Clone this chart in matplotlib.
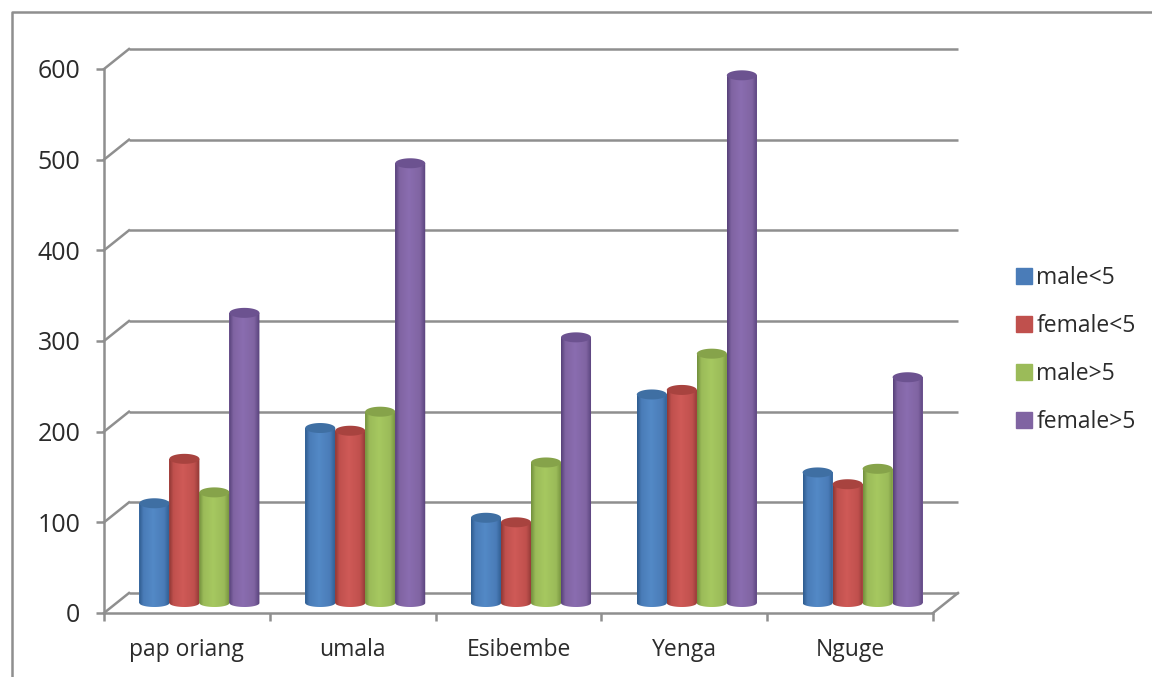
import numpy as np
import matplotlib
matplotlib.use("Agg")
import matplotlib.pyplot as plt
from matplotlib.colors import LinearSegmentedColormap
from matplotlib.lines import Line2D
from matplotlib.patches import Patch, PathPatch
from matplotlib.path import Path
from matplotlib.transforms import Affine2D

villages = ["pap oriang", "umala", "Esibembe", "Yenga", "Nguge"]
series_names = ["male<5", "female<5", "male>5", "female>5"]
male_under5 = [110, 193, 94, 230, 144]
female_under5 = [159, 190, 89, 235, 131]
male_over5 = [122, 211, 155, 275, 148]
female_over5 = [320, 485, 293, 582, 249]
y_ticks = [0, 100, 200, 300, 400, 500, 600]

# side colour, body colour, highlight, cap colour
palette = [
    ("#2f5c8f", "#4a7cb8", "#5389c6", "#3f6fa3"),
    ("#8f3835", "#c0504d", "#cf5a57", "#a8433f"),
    ("#73903d", "#9bbb59", "#a6c860", "#86a34a"),
    ("#57417a", "#8064a2", "#8a6db0", "#6c5290"),
]

GREY = "#8f8f8f"
TEXT = "#2b2b2b"
LW = 1.8
W, H = 1152, 677
DEPTH_X, DEPTH_Y = 25, 20  # pixel offset of the back wall
BAR_W = 0.181
CAP_PX = 5
BASE_PX = 4

plt.rcParams["font.family"] = ["Open Sans", "DejaVu Sans"]

fig = plt.figure(figsize=(W / 100, H / 100), dpi=100)
ax = fig.add_axes([104 / W, (H - 613) / H, 829 / W, 544 / H])
ax.set_xlim(0, 5)
ax.set_ylim(0, 600)
ax.patch.set_alpha(0)

back = ax.transData + Affine2D().translate(DEPTH_X, DEPTH_Y)
middle = ax.transData + Affine2D().translate(DEPTH_X / 2, DEPTH_Y / 2)
px_x = 5 / 829
px_y = 600 / 544

# back wall gridlines with their slanted side-wall part
for val in y_ticks:
    ax.plot([0, 5], [val, val], color=GREY, lw=LW, transform=back,
            clip_on=False, zorder=1, solid_capstyle="butt")
    ax.plot([0, DEPTH_X * px_x], [val, val + DEPTH_Y * px_y], color=GREY,
            lw=LW, clip_on=False, zorder=1)
ax.plot([5, 5 + DEPTH_X * px_x], [0, DEPTH_Y * px_y], color=GREY, lw=LW,
        clip_on=False, zorder=1)


def draw_cylinder(x0, width, height, colors, z):
    cmap = LinearSegmentedColormap.from_list(
        "cyl", [(0, colors[0]), (0.14, colors[1]), (0.45, colors[2]),
                (0.82, colors[1]), (1, colors[0])])
    hw = width / 2
    cx = x0 + hw
    # outline: up the left side, across the top, round the base
    t = np.linspace(0, np.pi, 40)
    bx = cx - hw * np.cos(t)
    by = -BASE_PX * px_y * np.sin(t)
    xs = np.r_[cx - hw, cx + hw, bx[::-1]]
    ys = np.r_[height, height, by[::-1]]
    verts = np.c_[xs, ys]
    outline = PathPatch(Path(np.r_[verts, verts[:1]], closed=True),
                        transform=middle, fc="none", ec="none")
    ax.add_patch(outline)
    img = ax.imshow(np.linspace(0, 1, 64)[None, :], cmap=cmap, aspect="auto",
                    extent=[x0, x0 + width, -BASE_PX * px_y, height],
                    transform=middle, zorder=z, interpolation="bilinear")
    img.set_clip_path(outline)
    # top cap
    t = np.linspace(0, 2 * np.pi, 60)
    ax.fill(cx + hw * np.cos(t), height + CAP_PX * px_y * np.sin(t),
            color=colors[3], transform=middle, zorder=z + 0.5, clip_on=False,
            lw=0)


all_series = [male_under5, female_under5, male_over5, female_over5]
centers = np.arange(len(villages)) + 0.5
for i, (vals, colors) in enumerate(zip(all_series, palette)):
    offs = centers + (i - 1.5) * BAR_W
    bars = ax.bar(offs, vals, BAR_W, color=colors[1], transform=middle,
                  zorder=3, clip_on=False, lw=0)
    for j, rect in enumerate(bars):
        draw_cylinder(rect.get_x(), rect.get_width(), rect.get_height(),
                      colors, 4 + j * 4 + i * 0.6)

ax.set_xlim(0, 5)
ax.set_ylim(0, 600)

for name in ["top", "right"]:
    ax.spines[name].set_visible(False)
for name in ["left", "bottom"]:
    ax.spines[name].set_color(GREY)
    ax.spines[name].set_linewidth(LW)
    ax.spines[name].set_zorder(2)

ax.set_yticks(y_ticks)
ax.tick_params(axis="y", direction="out", length=6, width=LW, color=GREY,
               labelsize=18, labelcolor=TEXT, pad=11)
ax.set_xticks(range(6))
ax.set_xticklabels([])
ax.tick_params(axis="x", which="major", direction="out", length=6, width=LW,
               color=GREY)
ax.set_xticks(centers, minor=True)
ax.set_xticklabels(villages, minor=True)
ax.tick_params(axis="x", which="minor", length=0, labelsize=16.5,
               labelcolor=TEXT, pad=18)

handles = [Patch(color=c[1], label=n) for c, n in zip(palette, series_names)]
fig.legend(handles=handles, loc="center left",
           bbox_to_anchor=(1009 / W, (H - 350) / H), frameon=False,
           fontsize=16.5, labelcolor=TEXT, handlelength=0.7, handleheight=0.7,
           handletextpad=0.2, labelspacing=1.05, borderpad=0.3, borderaxespad=0)

# outer chart frame, cut off by the image edge
fig.add_artist(Line2D([12 / W, 12 / W, 1], [0, (H - 12) / H, (H - 12) / H],
                      color=GREY, lw=LW, transform=fig.transFigure))

fig.savefig("out.png", dpi=100)
plt.close(fig)
